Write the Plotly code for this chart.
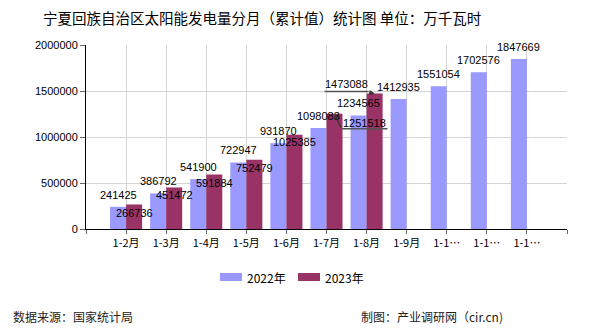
import plotly.graph_objects as go

categories = ["1-2月", "1-3月", "1-4月", "1-5月", "1-6月", "1-7月", "1-8月", "1-9月", "1-1…", "1-1…", "1-1…"]
values_2022 = [241425, 386792, 541900, 722947, 931870, 1098083, 1234565, 1412935, 1551054, 1702576, 1847669]
values_2023 = [266736, 451472, 591884, 752479, 1025385, 1251518, 1473088]
series_names = ["2022年", "2023年"]
y_ticks = [0, 500000, 1000000, 1500000, 2000000]

C22 = "#9999FF"
C23 = "#993366"
FONT = "Liberation Sans, Noto Sans CJK SC, sans-serif"
CJK = "Noto Sans CJK SC, sans-serif"

# label placement (pixel shifts) for 2023 labels: (xshift, yshift)
shift_2023 = [(0, -9), (0, -8), (0, -8), (0, -8), (0, -7), None, None]

x22 = list(range(len(values_2022)))
x23 = list(range(len(values_2023)))

fig = go.Figure()
fig.add_trace(go.Bar(x=x22, y=values_2022, width=0.4, offset=-0.4, marker_color=C22,
                     marker_line_width=0, name=series_names[0], showlegend=False))
fig.add_trace(go.Bar(x=x23, y=values_2023, width=0.4, offset=0.0, marker_color=C23,
                     marker_line_width=0, name=series_names[1], showlegend=False))

ann = []
lbl_font = dict(family=FONT, size=11, color="#000")
for i, v in enumerate(values_2022):
    ann.append(dict(x=i - 0.2, y=v, xref="x", yref="y", text=str(v), showarrow=False,
                    yanchor="middle", yshift=12, font=lbl_font))
shapes = []
for i, v in enumerate(values_2023):
    s = shift_2023[i]
    if s is not None:
        ann.append(dict(x=i + 0.2, y=v, xref="x", yref="y", text=str(v), showarrow=False,
                        yanchor="middle", xshift=s[0], yshift=s[1], font=lbl_font))

# displaced labels with leader lines
i = 5; v = values_2023[i]
ann.append(dict(x=i + 0.2, y=v, xref="x", yref="y", text=str(v), showarrow=False,
                yanchor="middle", xshift=30, yshift=-9, font=lbl_font))
ann.append(dict(x=i + 0.2, y=v, xref="x", yref="y", text="", showarrow=True,
                ax=7, ay=15, arrowhead=2, arrowsize=0.9, arrowwidth=1.2, arrowcolor="#333",
                standoff=0))
shapes.append(dict(type="line", xref="x", yref="y", xsizemode="pixel", ysizemode="pixel",
                   xanchor=i + 0.2, yanchor=v, x0=7, y0=-15, x1=53, y1=-15,
                   line=dict(color="#555", width=1.5)))
i = 6; v = values_2023[i]
ann.append(dict(x=i + 0.2, y=v, xref="x", yref="y", text=str(v), showarrow=False,
                yanchor="middle", xshift=-28, yshift=9, font=lbl_font))
ann.append(dict(x=i + 0.2, y=v, xref="x", yref="y", text="", showarrow=True,
                ax=-6, ay=-1, arrowhead=2, arrowsize=0.9, arrowwidth=1.2, arrowcolor="#333",
                standoff=0))
shapes.append(dict(type="line", xref="x", yref="y", xsizemode="pixel", ysizemode="pixel",
                   xanchor=i + 0.2, yanchor=v, x0=-50, y0=2, x1=-6, y1=2,
                   line=dict(color="#555", width=1.5)))

# title
ann.append(dict(x=262, y=18, text="宁夏回族自治区太阳能发电量分月（累计值）统计图 单位：万千瓦时",
                showarrow=False, xanchor="center", font=dict(family=CJK, size=14.5, color="#000")))
# footer
ann.append(dict(x=11, y=316, text="数据来源：国家统计局", showarrow=False, xanchor="left",
                font=dict(family=CJK, size=12, color="#222")))
ann.append(dict(x=505, y=316, text="制图：产业调研网（cir.cn)", showarrow=False, xanchor="right",
                font=dict(family=CJK, size=12, color="#222")))

# legend drawn manually
legend_items = [(220, series_names[0], C22), (298, series_names[1], C23)]
for lx, name, col in legend_items:
    shapes.append(dict(type="rect", xref="paper", yref="paper", x0=lx, x1=lx + 22, y0=273, y1=281,
                       fillcolor=col, line_width=0))
    ann.append(dict(x=lx + 25, y=277, text=name, showarrow=False, xanchor="left",
                    font=dict(family=CJK, size=12, color="#000")))

# convert pixel-positioned paper items to paper fractions
W, H = 590, 330
ML, MR, MT, MB = 86, 23, 45, 101
PW, PH = W - ML - MR, H - MT - MB
for a in ann:
    if a.get("xref") == "x":
        continue
    a["xref"] = "paper"; a["yref"] = "paper"; a["yanchor"] = "middle"
    a["x"] = (a["x"] - ML) / PW
    a["y"] = (H - MB - a["y"]) / PH
for s in shapes:
    if s.get("xref") == "paper":
        s["x0"] = (s["x0"] - ML) / PW; s["x1"] = (s["x1"] - ML) / PW
        y0, y1 = s["y0"], s["y1"]
        s["y0"] = (H - MB - y1) / PH; s["y1"] = (H - MB - y0) / PH

fig.update_layout(
    width=W, height=H, margin=dict(l=ML, r=MR, t=MT, b=MB, autoexpand=False),
    paper_bgcolor="white", plot_bgcolor="white", barmode="overlay",
    annotations=ann, shapes=shapes, showlegend=False,
    xaxis=dict(range=[-1, 11], tickvals=list(range(-1, 12)),
               ticktext=[""] + categories + [""], showgrid=True, gridcolor="#d4d4d4",
               gridwidth=1, showline=True, linecolor="#000", linewidth=1,
               ticks="outside", ticklen=4, tickcolor="#666", zeroline=False,
               tickfont=dict(family=CJK, size=11, color="#000")),
    yaxis=dict(range=[0, 2000000], tickvals=y_ticks, ticktext=[str(t) for t in y_ticks],
               showgrid=True, gridcolor="#d4d4d4", gridwidth=1, showline=True,
               linecolor="#000", linewidth=1, ticks="outside", ticklen=5, tickcolor="#666",
               zeroline=False, tickfont=dict(family=FONT, size=11, color="#000")),
)

fig.write_html("out.html")
